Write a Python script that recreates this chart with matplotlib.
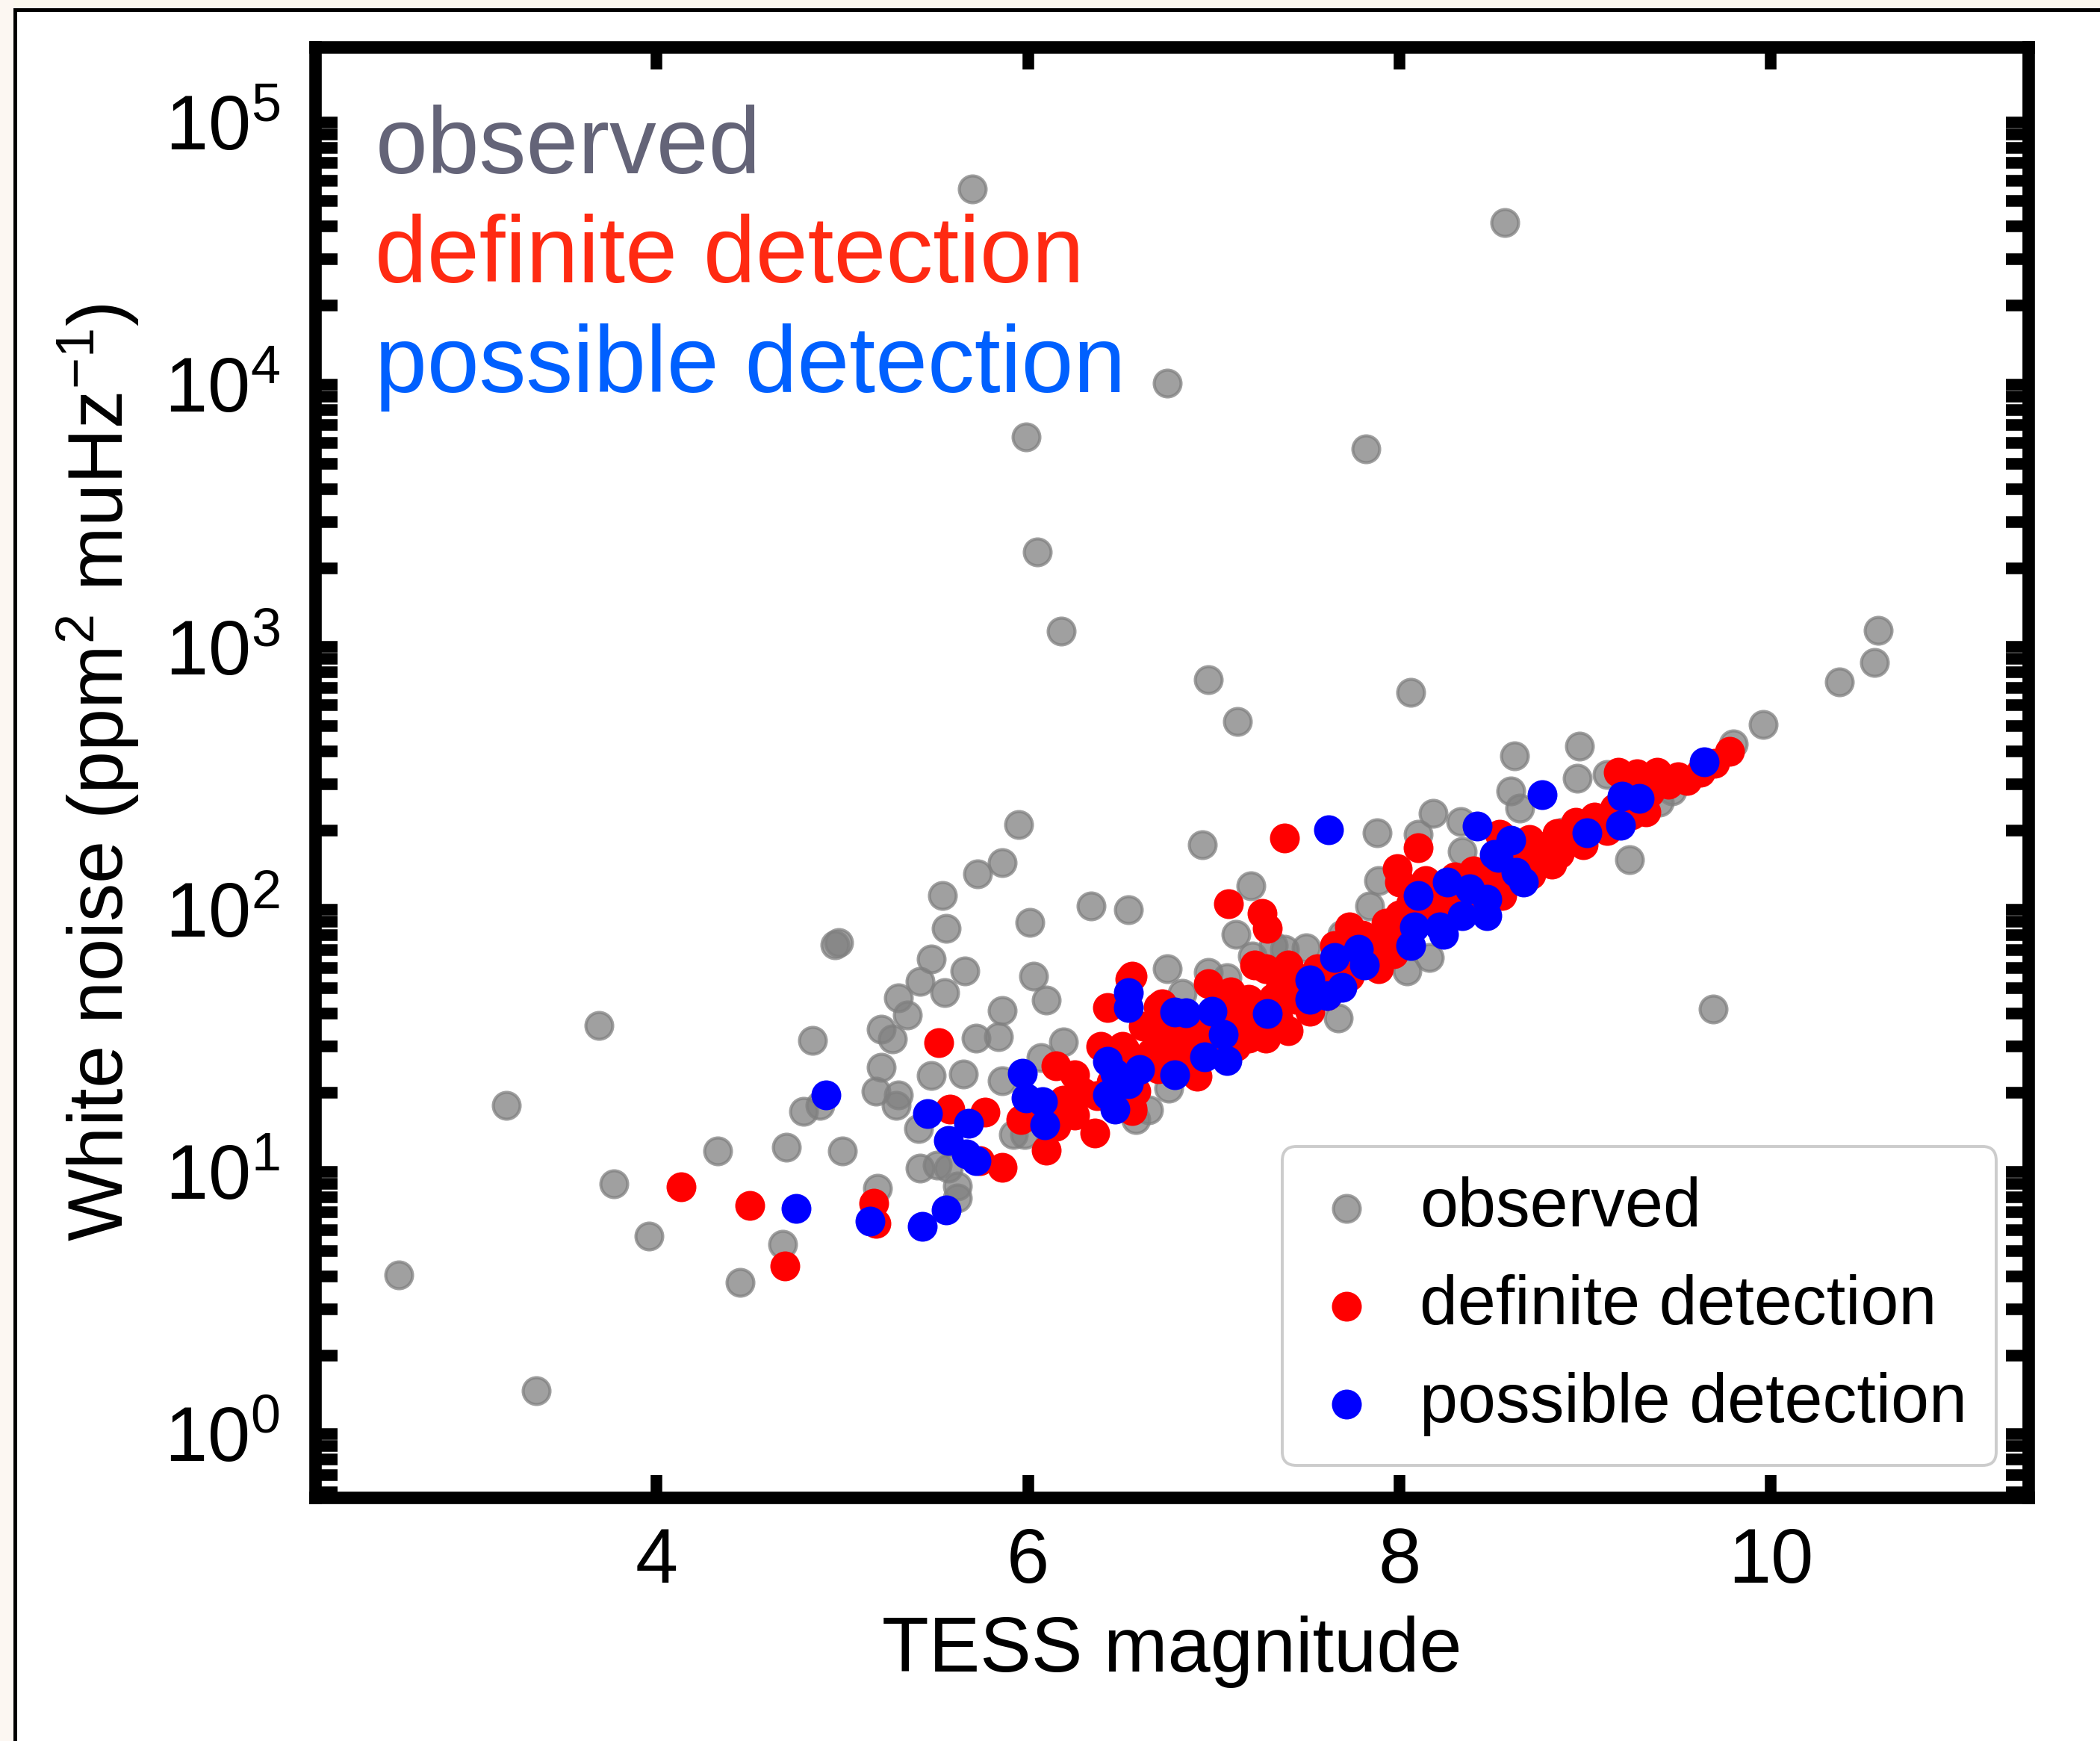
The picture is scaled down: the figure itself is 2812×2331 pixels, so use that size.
import numpy as np
import matplotlib.pyplot as plt
from matplotlib.lines import Line2D
from matplotlib.patches import Rectangle
from matplotlib.ticker import LogLocator, NullLocator, NullFormatter

plt.rcParams['font.family'] = ['Liberation Sans', 'DejaVu Sans']
plt.rcParams['mathtext.fontset'] = 'custom'
plt.rcParams['mathtext.rm'] = 'Liberation Sans'
plt.rcParams['mathtext.it'] = 'Liberation Sans:italic'
plt.rcParams['mathtext.bf'] = 'Liberation Sans:bold'
plt.rcParams['mathtext.default'] = 'regular'

# all observed stars: TESS magnitude vs white noise level
obs_mag = [5.70, 8.57, 6.75, 5.99, 7.82, 6.05, 6.18, 10.58, 10.56, 10.37,
           6.97, 8.06, 7.13, 9.96, 8.62, 8.97, 8.60, 8.96, 9.12, 9.80,
           9.40, 9.47, 8.65, 8.51, 8.88, 5.95, 6.94, 7.88, 8.18, 8.33,
           8.10, 8.34, 9.24, 9.69, 5.86, 5.73, 5.54, 5.56, 6.34, 6.54,
           6.01, 4.98, 4.96, 5.48, 5.66, 5.42, 5.55, 5.30, 5.35, 6.03,
           6.10, 5.86, 6.75, 5.21, 5.27, 5.72, 5.84, 6.19, 4.84, 3.69,
           5.21, 5.48, 5.65, 5.18, 5.30, 5.29, 4.79, 4.88, 4.33, 4.70,
           5.00, 5.42, 5.51, 5.57, 5.62, 5.62, 5.19, 3.77, 3.96, 4.68,
           4.45, 2.61, 3.35, 3.19, 5.86, 6.07, 6.76, 6.58, 5.92, 5.98,
           5.41, 7.20, 7.12, 7.89, 7.84, 7.32, 7.50, 7.38, 7.67, 8.04,
           8.16, 7.69, 7.07, 6.83, 6.97, 7.21, 6.65]
obs_noise = [55700, 41500, 10100, 6340, 5700, 2310, 1150, 1160, 873, 736,
             750, 672, 520, 506, 386, 418, 283, 316, 326, 427,
             257, 282, 244, 120, 197, 210, 177, 196, 233, 216,
             194, 166, 155, 41.6, 151, 137, 113, 84.7, 103, 100,
             89.3, 74.8, 73.5, 64.7, 58.2, 53.1, 48.1, 45.9, 39.7, 55.6,
             45.0, 41.3, 59.4, 35.0, 32.1, 32.4, 32.8, 31.3, 31.6, 36.2,
             25.0, 23.3, 23.6, 20.3, 19.7, 17.9, 17.0, 17.9, 12.0, 12.4,
             12.0, 10.3, 10.6, 10.3, 8.83, 7.94, 8.65, 8.99, 5.70, 5.31,
             3.79, 4.05, 1.47, 17.9, 22.2, 27.3, 20.8, 15.8, 13.9, 13.9,
             14.6, 123, 80.4, 129, 103, 72.8, 71.4, 70.5, 38.5, 58.2,
             65.6, 80.4, 54.8, 47.8, 57.4, 66.4, 17.2]

# stars with a definite detection
def_mag = [4.13, 4.50, 4.69, 5.17, 5.18, 5.52, 5.58, 5.77, 5.86, 5.74,
           5.96, 6.10, 6.15, 6.25, 6.19, 6.15, 6.36, 6.39, 6.51, 6.55,
           6.43, 6.56, 6.37, 6.68, 6.72, 6.76, 7.38, 7.08, 7.26, 7.29,
           8.10, 7.99, 8.00, 9.00, 9.12, 9.33, 9.16, 8.55, 8.75, 8.92,
           8.53, 8.67, 8.75, 8.86, 8.14, 8.30, 8.47, 8.55, 8.34, 8.45,
           8.06, 7.93, 7.91, 7.89, 7.97, 7.81, 7.73, 7.65, 7.77, 7.69,
           7.56, 7.73, 7.61, 7.40, 7.28, 7.36, 7.44, 7.52, 7.40, 7.28,
           7.19, 7.13, 7.19, 7.07, 7.01, 6.97, 7.09, 6.87, 6.76, 6.70,
           6.62, 6.66, 6.91, 6.58, 6.56, 6.70, 6.85, 6.56, 6.52, 7.22,
           7.36, 7.46, 9.78, 9.62, 9.50, 9.39, 9.28, 9.18, 9.31, 9.15,
           9.04, 8.99, 8.86, 8.72, 8.64, 8.54, 8.71, 8.82,
           6.25, 6.30, 6.45, 6.48, 6.62, 6.75, 6.80, 6.90, 6.95, 7.05,
           7.12, 7.15, 7.25, 7.32, 7.35, 7.45, 7.50, 7.58, 7.62, 7.68,
           7.80, 7.85, 7.95, 8.00, 8.05, 8.12, 8.20, 8.25, 8.35, 8.40,
           8.42, 8.50, 8.58, 8.62, 8.70, 8.80, 8.85, 8.95, 9.05, 9.10,
           9.22, 9.25, 9.35, 9.45, 9.55, 9.70]
def_noise = [8.77, 7.43, 4.39, 7.59, 6.38, 31.1, 17.3, 16.9, 10.4, 11.0,
             15.8, 12.1, 25.4, 23.4, 18.8, 14.9, 14.1, 30.1, 30.1, 54.1,
             42.2, 17.5, 19.5, 35.5, 43.6, 30.1, 187, 105, 96.8, 84.7,
             172, 143, 127, 194, 200, 236, 244, 190, 174, 186,
             152, 148, 152, 163, 129, 133, 129, 113, 109, 109,
             105, 88.7, 72.8, 59.4, 67.8, 63.4, 85.9, 72.8, 75.3, 63.4,
             59.4, 55.6, 46.9, 61.4, 59.4, 52.0, 45.3, 41.0, 34.6, 32.4,
             45.3, 39.7, 32.4, 34.6, 28.4, 52.0, 48.4, 33.4, 39.7, 42.5,
             36.0, 28.4, 23.1, 20.3, 17.1, 24.7, 26.5, 55.6, 29.3, 61.4,
             57.4, 50.4, 400, 334, 321, 334, 328, 334, 247, 221,
             207, 177, 177, 169, 177, 194, 136, 149,
             16.5, 20.0, 22.0, 28.0, 26.0, 32.0, 26.0, 30.0, 36.0, 42.0,
             30.0, 36.0, 40.0, 46.0, 38.0, 55.0, 48.0, 52.0, 58.0, 70.0,
             80.0, 68.0, 78.0, 95.0, 88.0, 100, 105, 95.0, 120, 140,
             128, 138, 165, 160, 185, 165, 195, 215, 225, 205,
             250, 230, 280, 300, 310, 360]

# stars with a possible detection
pos_mag = [4.91, 4.75, 5.15, 5.43, 5.56, 5.46, 5.68, 5.57, 5.67, 5.72,
           5.97, 5.99, 6.08, 6.09, 6.54, 6.54, 6.43, 6.47, 6.60, 6.43,
           6.47, 6.79, 6.79, 7.62, 8.77, 8.42, 8.60, 8.53, 8.63, 8.67,
           9.64, 9.20, 9.29, 9.19, 9.01, 8.26, 8.10, 8.38, 8.47, 8.47,
           8.34, 8.22, 8.08, 8.06, 8.24, 7.78, 7.81, 7.65, 7.69, 7.52,
           7.61, 7.52, 7.29, 6.99, 7.05, 6.95, 7.07, 6.85, 6.54, 8.51]
pos_noise = [19.7, 7.24, 6.47, 6.18, 7.14, 16.7, 15.3, 13.2, 11.7, 11.0,
             23.7, 19.1, 18.5, 15.1, 48.1, 42.2, 26.4, 23.7, 24.5, 19.7,
             17.3, 40.7, 23.4, 201, 273, 208, 184, 158, 138, 127,
             365, 271, 265, 209, 196, 127, 113, 120, 109, 94.8,
             94.8, 85.9, 85.9, 72.8, 80.4, 70.5, 61.4, 65.6, 50.4, 53.8,
             46.9, 45.3, 40.0, 41.0, 33.4, 27.4, 26.5, 40.3, 21.6, 162]

fig = plt.figure(figsize=(14.06, 11.655), dpi=200)
ax = fig.add_axes([0.1501, 0.13986, 0.8158, 0.8333])

ax.scatter(obs_mag, obs_noise, s=167, c='gray', edgecolors='gray', linewidths=1.5,
           alpha=0.75, label='observed', zorder=2)
ax.scatter(def_mag, def_noise, s=207, c='red', linewidths=0,
           label='definite detection', zorder=3)
ax.scatter(pos_mag, pos_noise, s=207, c='blue', linewidths=0,
           label='possible detection', zorder=4)

ax.set_yscale('log')
ax.set_xlim(2.161, 11.388)
ax.set_ylim(0.574, 1.94e5)
ax.set_xticks([4, 6, 8, 10])
ax.xaxis.set_minor_locator(NullLocator())
ax.set_yticks([1, 10, 100, 1e3, 1e4, 1e5])
ax.yaxis.set_minor_locator(LogLocator(base=10, subs=np.arange(2, 10), numticks=100))
ax.yaxis.set_minor_formatter(NullFormatter())

ax.tick_params(which='both', direction='in', top=True, right=True,
               length=10.8, width=5.6, labelsize=37)
ax.tick_params(axis='x', pad=14)
ax.tick_params(axis='y', pad=17)
for sp in ax.spines.values():
    sp.set_linewidth(6)

ax.set_xlabel('TESS magnitude', fontsize=37, labelpad=8)
ax.set_ylabel('White noise (ppm$^2$ muHz$^{-1}$)', fontsize=37, labelpad=11)

# coloured key in the upper left
ax.text(0.035, 0.9127, 'observed', color='#646478', fontsize=45.2,
        transform=ax.transAxes, va='baseline')
ax.text(0.035, 0.8376, 'definite detection', color='#ff2a12', fontsize=45.2,
        transform=ax.transAxes, va='baseline')
ax.text(0.035, 0.7619, 'possible detection', color='#0060ff', fontsize=45.2,
        transform=ax.transAxes, va='baseline')

leg = ax.legend(loc='lower right', bbox_to_anchor=(0.9813, 0.0221), borderaxespad=0,
                fontsize=33, fancybox=True, edgecolor='#cccccc', framealpha=1,
                handlelength=1.0, handletextpad=0.57, borderpad=0.43, labelspacing=0.49)
leg.get_frame().set_linewidth(1.4)

# page edge and frame around the figure
fig.patches.append(Rectangle((0, 1 - 10 / 2331), 1, 10 / 2331, transform=fig.transFigure,
                             color='#fbf8ef', zorder=0))
fig.patches.append(Rectangle((0, 0), 17 / 2812, 1, transform=fig.transFigure,
                             color='#fcf7f2', zorder=0))
fig.add_artist(Line2D([20 / 2812, 20 / 2812], [0, 1 - 12.5 / 2331], color='black',
                      lw=1.8, transform=fig.transFigure))
fig.add_artist(Line2D([20 / 2812, 1], [1 - 12.5 / 2331, 1 - 12.5 / 2331], color='black',
                      lw=1.8, transform=fig.transFigure))

fig.savefig('out.png', dpi=200)
